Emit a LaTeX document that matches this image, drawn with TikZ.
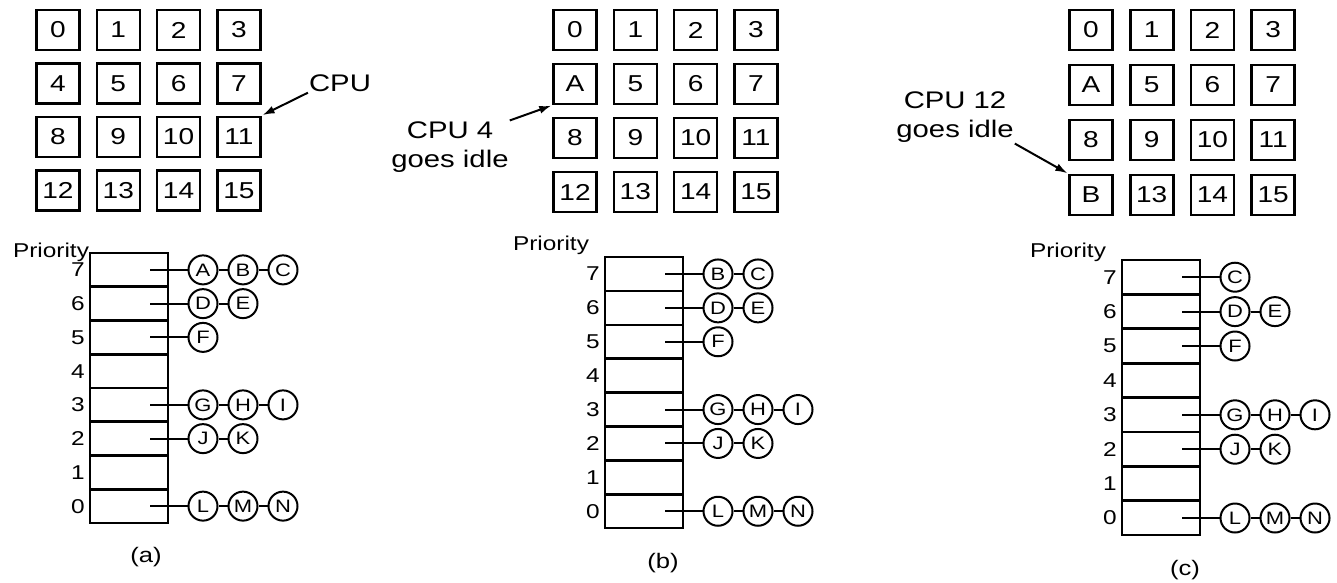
\documentclass[tikz,border=0pt]{standalone}
\usepackage{fontspec}
\setmainfont{Liberation Sans}[FakeStretch=1.22]
\usetikzlibrary{arrows.meta, positioning}

\begin{document}
\begin{tikzpicture}[
  x=1pt, y=-1pt,
  cpubox/.style={rectangle, draw, line width=2.6pt, minimum width=43pt, minimum height=40pt,
                 inner sep=0pt, font=\fontsize{23}{26}\selectfont},
  slot/.style={rectangle, draw, line width=2.4pt, minimum width=78pt, minimum height=34pt,
               inner sep=0pt, outer sep=0pt},
  proc/.style={circle, draw, line width=2pt, minimum size=29pt, inner sep=0pt,
               font=\fontsize{18}{20}\selectfont},
  prio/.style={inner sep=0pt, font=\fontsize{20}{24}\selectfont},
  note/.style={align=center, inner sep=1pt, font=\fontsize{24}{29}\selectfont},
  caption/.style={font=\fontsize{21}{25}\selectfont},
  link/.style={line width=2pt},
  arrow/.style={-{Latex[length=12pt, width=8pt]}, line width=2pt, shorten >=1pt}
]
\useasboundingbox (0,0) rectangle (1337,582);

\foreach \lab [count=\i from 0] in {0,1,2,3,4,5,6,7,8,9,10,11,12,13,14,15} {
  \pgfmathtruncatemacro\c{mod(\i,4)}
  \pgfmathtruncatemacro\r{div(\i,4)}
  \node[cpubox] (a\i) at (58+60.3*\c, 30+53.4*\r) {\lab};
}
\node[note] (cpu-a) at (340,83) {CPU};
\draw[arrow] (cpu-a.south west) -- (a11.north east);

\node[prio] (prio-a) at (51,252) {Priority};
\foreach \k in {0,...,7} {
  \node[slot] (a-r\k) at (129, 253+33.75*7.5-33.75*\k) {};
  \node[prio, left=5pt of a-r\k] {\k};
  \coordinate (a-p\k-0) at ([xshift=-18pt]a-r\k.east);
}
\foreach \k/\list in {7/{A,B,C}, 6/{D,E}, 5/{F}, 3/{G,H,I}, 2/{J,K}, 0/{L,M,N}} {
  \foreach \pr [count=\j] in \list {
    \pgfmathtruncatemacro\prev{\j-1}
    \node[proc] (a-p\k-\j) at ([xshift=40*\j-5]a-r\k.east) {\pr};
    \draw[link] (a-p\k-\prev) -- (a-p\k-\j);
  }
}
\node[caption] (cap-a) at ([xshift=17pt, yshift=-34pt]a-r0.south) {(a)};

\foreach \lab [count=\i from 0] in {0,1,2,3,A,5,6,7,8,9,10,11,12,13,14,15} {
  \pgfmathtruncatemacro\c{mod(\i,4)}
  \pgfmathtruncatemacro\r{div(\i,4)}
  \node[cpubox] (b\i) at (575+60.3*\c, 30+54*\r) {\lab};
}
\node[note] (cpu-b) at (450,147) {CPU 4\\goes idle};
\draw[arrow] (cpu-b.north east) -- (b4.south west);

\node[prio] (prio-b) at (551,245) {Priority};
\foreach \k in {0,...,7} {
  \node[slot] (b-r\k) at (644, 257+33.9*7.5-33.9*\k) {};
  \node[prio, left=5pt of b-r\k] {\k};
  \coordinate (b-p\k-0) at ([xshift=-18pt]b-r\k.east);
}
\foreach \k/\list in {7/{B,C}, 6/{D,E}, 5/{F}, 3/{G,H,I}, 2/{J,K}, 0/{L,M,N}} {
  \foreach \pr [count=\j] in \list {
    \pgfmathtruncatemacro\prev{\j-1}
    \node[proc] (b-p\k-\j) at ([xshift=40*\j-5]b-r\k.east) {\pr};
    \draw[link] (b-p\k-\prev) -- (b-p\k-\j);
  }
}
\node[caption] (cap-b) at ([xshift=19pt, yshift=-35pt]b-r0.south) {(b)};

\foreach \lab [count=\i from 0] in {0,1,2,3,A,5,6,7,8,9,10,11,B,13,14,15} {
  \pgfmathtruncatemacro\c{mod(\i,4)}
  \pgfmathtruncatemacro\r{div(\i,4)}
  \node[cpubox] (c\i) at (1091+60.7*\c, 30+55*\r) {\lab};
}
\node[note] (cpu-c) at (955,117) {CPU 12\\goes idle};
\draw[arrow] (cpu-c.south east) -- (c12.north west);

\node[prio] (prio-c) at (1068,252) {Priority};
\foreach \k in {0,...,7} {
  \node[slot] (c-r\k) at (1161, 260+34.4*7.5-34.4*\k) {};
  \node[prio, left=5pt of c-r\k] {\k};
  \coordinate (c-p\k-0) at ([xshift=-18pt]c-r\k.east);
}
\foreach \k/\list in {7/{C}, 6/{D,E}, 5/{F}, 3/{G,H,I}, 2/{J,K}, 0/{L,M,N}} {
  \foreach \pr [count=\j] in \list {
    \pgfmathtruncatemacro\prev{\j-1}
    \node[proc] (c-p\k-\j) at ([xshift=40*\j-5]c-r\k.east) {\pr};
    \draw[link] (c-p\k-\prev) -- (c-p\k-\j);
  }
}
\node[caption] (cap-c) at ([xshift=24pt, yshift=-35pt]c-r0.south) {(c)};

\end{tikzpicture}
\end{document}
